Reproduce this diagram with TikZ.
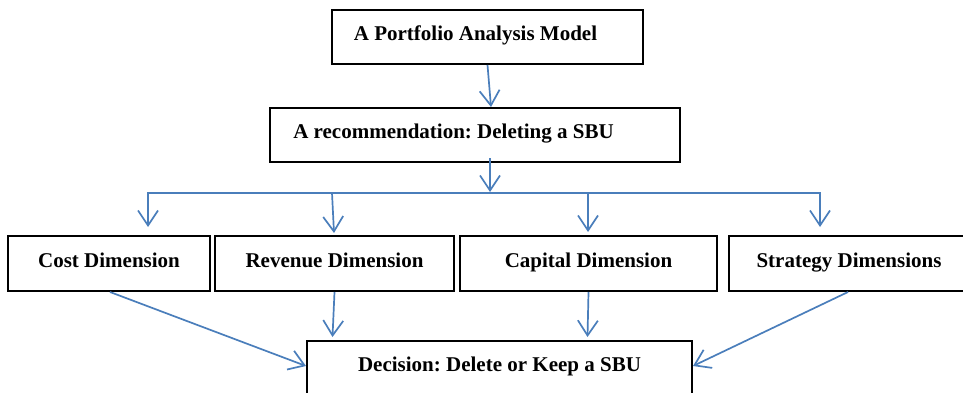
\documentclass[tikz,border=0pt]{standalone}
\usepackage{fontspec}
\setmainfont{Liberation Serif}
\usetikzlibrary{arrows.meta,calc}
\definecolor{lineblue}{HTML}{4A7EBB}
\frenchspacing
\begin{document}
\begin{tikzpicture}[x=1pt,y=-1pt,
  box/.style={draw=black, line width=2pt, inner sep=0pt,
    font=\fontsize{21}{25}\selectfont\bfseries\frenchspacing, text height=14pt, text depth=6pt},
  barb/.tip={Straight Barb[length=15pt,width=20pt,line width=1.7pt]},
  conn/.style={draw=lineblue, line width=1.7pt, -barb},
  bothconn/.style={draw=lineblue, line width=1.7pt, barb-barb, line join=miter}]
\useasboundingbox (0,0) rectangle (963,393);
\clip (0,0) rectangle (963,393);

\node[box, minimum width=311pt, minimum height=54pt] (top) at (487.5,37)
  {\hspace*{-24pt}A Portfolio Analysis Model};
\node[box, minimum width=410pt, minimum height=54pt] (rec) at (475,135)
  {\hspace*{-43pt}A recommendation: Deleting a SBU};

\node[box, minimum width=202pt, minimum height=55pt] (cost) at (109,263.5) {Cost Dimension};
\node[box, minimum width=239pt, minimum height=55pt] (rev) at (334.5,263.5) {Revenue Dimension};
\node[box, minimum width=257pt, minimum height=55pt] (cap) at (588.5,263.5) {Capital Dimension};
\node[box, minimum width=260pt, minimum height=55pt] (strat) at (859,263.5) {\hspace*{-20pt}Strategy Dimensions};

\node[box, anchor=north, minimum width=385pt, inner ysep=16pt, text depth=40pt] (dec) at (499.5,340)
  {Decision: Delete or Keep a SBU};

\coordinate (busL) at (148,193);
\coordinate (busR) at (820,193);
\coordinate (busRev) at (332,193);
\coordinate (busCap) at (588,193);

% top to recommendation
\draw[conn] (top.south) -- ([xshift=16pt]rec.north);
% recommendation to bus
\draw[conn] ([xshift=15pt,yshift=5pt]rec.south) -- ($([xshift=15pt]rec.south |- busL)+(0,-1)$);
% bus with outer drops
\draw[bothconn] ($(busL |- cost.north)+(0,-8)$) -- (busL) -- (busR) -- ($(busR |- strat.north)+(0,-8)$);
\draw[conn] (busRev) -- ([xshift=-0.5pt,yshift=2pt]rev.north);
\draw[conn] (busCap) -- ([xshift=-0.5pt,yshift=3pt]cap.north);

% dimensions to decision
\draw[conn] ([xshift=1pt]cost.south) -- ($(dec.north west)+(0,26)$);
\draw[conn] (rev.south) -- ($(rev.south |- dec.north)+(-2,-3)$);
\draw[conn] (cap.south) -- ($(cap.south |- dec.north)+(-1,-3)$);
\draw[conn] ([xshift=-11pt]strat.south) -- ($(dec.north east)+(0,26)$);
\end{tikzpicture}
\end{document}
